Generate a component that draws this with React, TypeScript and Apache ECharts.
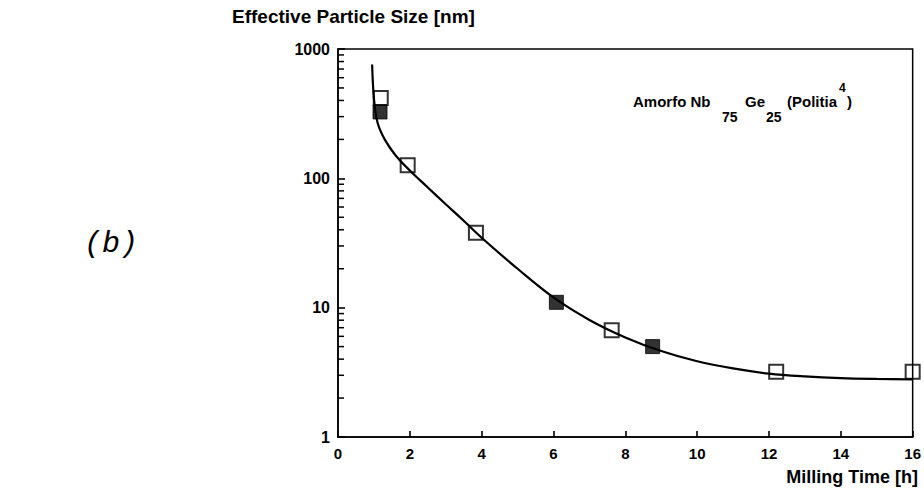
import React, { useEffect, useRef } from "react";
import * as echarts from "echarts";

// Fitted curve through the measurements (milling time in h, particle size in nm)
const fitTime = [0.95, 1.0, 1.1, 1.3, 1.6, 2.0, 2.5, 3.0, 3.5, 4.0, 5.0, 6.0, 7.0, 8.0, 9.0, 10.0, 11.0, 12.0, 13.0, 14.0, 15.0, 16.0];
const fitSize = [760, 417, 270, 200, 151, 115, 85, 63, 47, 34.7, 20.0, 12.0, 8.04, 5.89, 4.62, 3.85, 3.39, 3.09, 2.94, 2.85, 2.81, 2.79];

// Open squares
const openTime = [1.19, 1.94, 3.84, 7.62, 12.2, 16.0];
const openSize = [418, 126, 38, 6.7, 3.2, 3.2];

// Filled squares
const filledTime = [1.17, 6.08, 8.76];
const filledSize = [326, 11, 5.0];

// Axis settings
const xMin = 0;
const xMax = 16;
const xStep = 2;
const yMin = 1;
const yMax = 1000;
const minorMultipliers = [2, 3, 4, 5, 6, 7, 8, 9];
const decades = [1, 10, 100];

const FONT = "'Liberation Sans', Arial, sans-serif";
const INK = "#000";

export default function App() {
  const ref = useRef<HTMLDivElement>(null);

  useEffect(() => {
    if (!ref.current) return;
    const chart = echarts.init(ref.current, undefined, { renderer: "svg" });

    // log-scale minor ticks (2..9 within each decade) on the left axis
    const minorValues: number[][] = [];
    decades.forEach((d) => minorMultipliers.forEach((m) => minorValues.push([xMin, m * d])));

    chart.setOption({
      animation: false,
      backgroundColor: "#ffffff",
      grid: { left: 338, right: 11, top: 49, bottom: 58, show: true, borderColor: INK, borderWidth: 1.5 },
      xAxis: {
        type: "value",
        min: xMin,
        max: xMax,
        interval: xStep,
        axisLine: { show: true, onZero: false, lineStyle: { color: INK, width: 1.5 } },
        axisTick: { show: true, inside: true, length: 6, lineStyle: { color: INK, width: 1.6 } },
        splitLine: { show: false },
        axisLabel: { color: INK, fontFamily: FONT, fontWeight: "bold", fontSize: 15, margin: 9 },
      },
      yAxis: {
        type: "log",
        logBase: 10,
        min: yMin,
        max: yMax,
        axisLine: { show: true, onZero: false, lineStyle: { color: INK, width: 1.5 } },
        axisTick: { show: true, inside: true, length: 7, lineStyle: { color: INK, width: 1.6 } },
        splitLine: { show: false },
        axisLabel: {
          color: INK,
          fontFamily: FONT,
          fontWeight: "bold",
          fontSize: 16,
          margin: 8,
          formatter: (v: number) => String(Math.round(v)),
        },
      },
      series: [
        {
          type: "custom",
          silent: true,
          clip: false,
          data: minorValues,
          renderItem: (_params: any, api: any) => {
            const p = api.coord([api.value(0), api.value(1)]);
            return {
              type: "line",
              shape: { x1: p[0], y1: p[1], x2: p[0] + 6, y2: p[1] },
              style: { stroke: INK, lineWidth: 1.5 },
            };
          },
          z: 3,
        },
        {
          type: "line",
          data: fitTime.map((t, i) => [t, fitSize[i]]),
          smooth: 0.35,
          showSymbol: false,
          lineStyle: { color: INK, width: 2.2 },
          z: 2,
        },
        {
          type: "scatter",
          data: openTime.map((t, i) => [t, openSize[i]]),
          symbol: "rect",
          symbolSize: 14,
          itemStyle: { color: "rgba(255,255,255,0)", borderColor: INK, borderWidth: 2 },
          z: 4,
        },
        {
          type: "scatter",
          data: filledTime.map((t, i) => [t, filledSize[i]]),
          symbol: "rect",
          symbolSize: 14,
          itemStyle: { color: INK, borderColor: INK, borderWidth: 1 },
          z: 5,
        },
      ],
      graphic: [
        {
          type: "text",
          left: 232,
          top: 7,
          style: { text: "Effective Particle Size [nm]", fill: INK, font: `bold 19px ${FONT}` },
        },
        {
          type: "text",
          right: 6,
          top: 468,
          style: { text: "Milling Time [h]", fill: INK, font: `bold 18px ${FONT}` },
        },
        {
          type: "text",
          left: 84,
          top: 229,
          style: { text: "(b)", fill: INK, font: `italic 30px 'Liberation Mono', 'DejaVu Sans Mono', monospace` },
        },
        {
          type: "text",
          left: 633,
          top: 94,
          style: { text: "Amorfo Nb", fill: INK, font: `bold 15px ${FONT}` },
        },
        {
          type: "text",
          left: 745,
          top: 94,
          style: { text: "Ge", fill: INK, font: `bold 15px ${FONT}` },
        },
        {
          type: "text",
          left: 787,
          top: 94,
          style: { text: "(Politia", fill: INK, font: `bold 15px ${FONT}` },
        },
        {
          type: "text",
          left: 839,
          top: 82,
          style: { text: "4", fill: INK, font: `bold 12px ${FONT}` },
        },
        {
          type: "text",
          left: 847,
          top: 94,
          style: { text: ")", fill: INK, font: `bold 15px ${FONT}` },
        },
        {
          type: "text",
          left: 722,
          top: 110,
          style: { text: "75", fill: INK, font: `bold 14px ${FONT}` },
        },
        {
          type: "text",
          left: 766,
          top: 110,
          style: { text: "25", fill: INK, font: `bold 14px ${FONT}` },
        },
      ],
    });

    return () => chart.dispose();
  }, []);

  return <div ref={ref} style={{ width: 924, height: 495, position: "fixed", left: 0, top: 0 }} />;
}
